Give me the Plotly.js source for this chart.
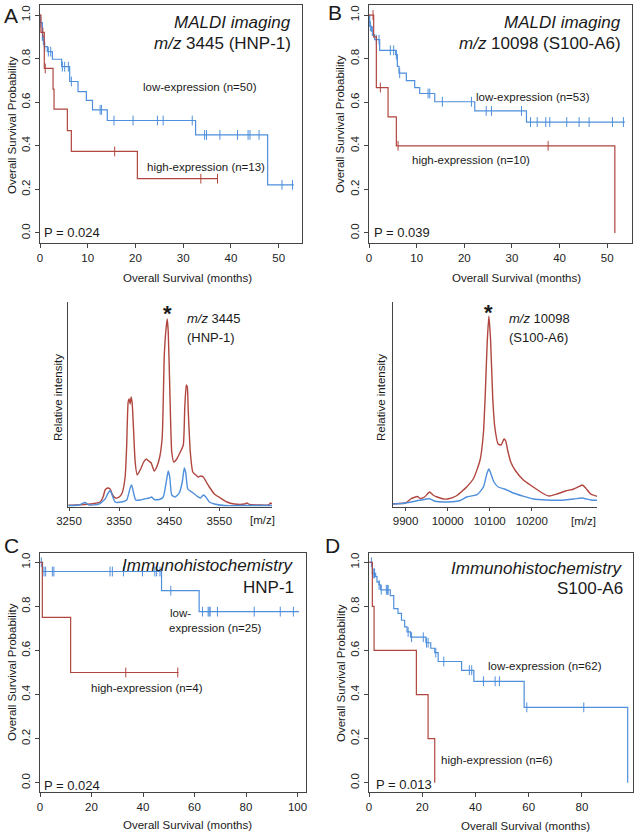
<!DOCTYPE html>
<html><head><meta charset="utf-8">
<script src="https://cdn.plot.ly/plotly-3.0.1.min.js"></script>
<style>html,body{margin:0;padding:0;background:#fff}#c{width:640px;height:835px}</style>
</head><body><div id="c"></div>
<script>
// ---------- Kaplan-Meier data (time in months, survival probability) ----------
const aLowT  = [0, 0.05, 0.5, 0.9, 1.54, 2.6, 4.54, 6.22, 7.97, 9.71, 11.0, 14.1, 32.6, 47.7, 53.2];
const aLowS  = [1.0, 0.965, 0.885, 0.855, 0.832, 0.797, 0.763, 0.695, 0.649, 0.608, 0.565, 0.516, 0.45, 0.221, 0.221];
const aLowCens = [0.15, 0.7, 1.0, 1.75, 2.24, 4.68, 5.17, 5.94, 6.57, 12.6, 12.9, 15.5, 19.5, 24.6, 25.8, 31.9, 34.5, 34.9, 37.7, 41.4, 43.6, 44.0, 45.9, 50.7, 52.9];
const aHighT = [0, 0.2, 0.9, 2.73, 2.94, 5.73, 6.57, 20.4, 37.3];
const aHighS = [1.0, 0.92, 0.755, 0.66, 0.568, 0.47, 0.374, 0.249, 0.249];
const aHighCens = [0.6, 1.1, 15.65, 33.7, 37.2];

const bLowT  = [0, 0.14, 0.49, 0.84, 1.19, 2.24, 5.6, 5.95, 6.3, 7.84, 9.59, 10.64, 13.8, 22.2, 33.05, 53.7];
const bLowS  = [1.0, 0.949, 0.926, 0.91, 0.887, 0.838, 0.818, 0.764, 0.733, 0.699, 0.667, 0.64, 0.602, 0.56, 0.509, 0.509];
const bLowCens = [0.28, 0.7, 1.54, 2.1, 4.48, 5.18, 5.74, 6.44, 12.4, 12.75, 15.4, 21.5, 24.6, 25.7, 32.0, 33.9, 35.3, 37.1, 37.95, 41.5, 44.1, 46.2, 51.1, 53.4];
const bHighT = [0, 0.98, 1.54, 4.0, 5.74, 51.6];
const bHighS = [1.0, 0.9, 0.667, 0.533, 0.4, 0.0];
const bHighCens = [0.84, 2.38, 6.1, 37.6];

const cLowT  = [0, 1.0, 47.2, 61.8, 100.6];
const cLowS  = [1.0, 0.958, 0.871, 0.776, 0.776];
const cLowCens = [0.5, 1.55, 2.2, 4.8, 5.4, 27.2, 28.1, 32.4, 39.8, 44.6, 45.3, 46.6, 50.8, 63.1, 65.3, 65.7, 66.1, 68.9, 83.2, 93.3, 98.4];
const cHighT = [0, 0.9, 11.9, 53.8];
const cHighS = [1.0, 0.75, 0.5, 0.5];
const cHighCens = [33.3, 53.5];

const dLowT  = [0, 1.26, 2.5, 3.0, 3.77, 4.4, 8.0, 9.3, 10.9, 12.2, 13.4, 14.3, 15.6, 21.4, 23.2, 24.7, 26.0, 34.8, 39.4, 58.3, 97.2];
const dLowS  = [1.0, 0.95, 0.935, 0.91, 0.897, 0.875, 0.849, 0.79, 0.768, 0.737, 0.707, 0.684, 0.66, 0.635, 0.61, 0.59, 0.55, 0.51, 0.46, 0.342, 0.0];
const dLowCens = [0.9, 1.5, 1.9, 2.1, 3.8, 4.6, 6.5, 6.9, 7.2, 14.7, 16.0, 20.4, 21.6, 22.2, 25.1, 28.1, 37.7, 38.6, 43.0, 47.4, 49.0, 59.3, 80.7];
const dHighT = [0, 1.26, 1.9, 17.8, 22.2, 24.7];
const dHighS = [1.0, 0.8, 0.6, 0.4, 0.2, 0.0];
const dHighCens = [];

// ---------- Mass spectra (m/z, relative intensity) ----------
const specL_redMz = [3249,3265,3280,3300,3312,3318,3322,3327,3332,3337,3343,3350,3356,3362,3365,3368,3370,3372,3374,3376,3379,3382,3386,3392,3399,3404,3409,3414,3420,3425,3431,3436,3440,3443,3446,3448,3451,3455,3459,3465,3472,3478,3481,3484,3486,3488,3492,3497,3503,3508,3513,3518,3524,3530,3540,3552,3565,3580,3600,3605,3610,3630,3648,3652,3655];
const specL_red   = [1.7,2,2.5,3.5,5,10,17,19,18,12,9,10,14,30,60,105,108,103,110,104,75,45,32,37,45,48,46,44,36,40,50,70,150,175,188,175,120,55,45,48,55,62,100,122,120,95,55,35,32,30,31,30,25,20,13,9,5,3,3,4,2.5,2,2,4,3];
const specL_blueMz = [3249,3270,3282,3290,3310,3322,3328,3332,3336,3342,3355,3365,3372,3375,3378,3383,3392,3400,3410,3415,3420,3430,3438,3444,3448,3451,3455,3462,3470,3476,3480,3483,3487,3495,3505,3512,3518,3523,3530,3540,3560,3600,3655];
const specL_blue   = [1.5,2,4.5,2,3,8,14,16.5,12,5,5,7,19,22,16,7,7,8,9,10,7.5,7.5,10,25,36,30,12,10,14,25,39,34,18,15,11,9,12,10,5,3,1.5,1.5,1.5];
const specL_ticks = [3250, 3350, 3450, 3550];
const specL_tickText = ['3250', '3350', '3450', '3550'];

const specR_redMz = [9870,9885,9900,9912,9920,9928,9935,9945,9957,9965,9975,9990,10000,10020,10045,10062,10077,10085,10090,10094,10098,10102,10107,10112,10120,10127,10134,10138,10143,10150,10160,10180,10200,10225,10240,10260,10280,10300,10315,10320,10328,10340,10355];
const specR_red   = [3.3,3.5,4,8,9.5,10.5,8.5,10,15,12,10,8,8,11,20,29,47,74,120,165,191,167,110,80,63,62,68,66,56,45,37,27,21,14,11,13,16,18,21,22,19,13,10.7];
const specR_blueMz = [9870,9900,9933,9957,9970,10000,10030,10045,10070,10085,10093,10098,10103,10110,10120,10135,10156,10204,10267,10300,10319,10340,10355];
const specR_blue   = [3,4,6.7,8.3,5.7,5,6.5,10,12.3,20,33,38,33,25,20,18,14,8,6.7,8,9,7,6.7];
const specR_ticks = [9900, 10000, 10100, 10200];
const specR_tickText = ['9900', '10000', '10100', '10200'];

// ---------- styling ----------
const W = 640, H = 835;
const BLUE = '#4f8fdc', RED = '#b0463f', AX = '#444';
const FONT = 'Liberation Sans, Arial, Helvetica, sans-serif';
const dx = (a, b) => [a / W, b / W];
const dy = (top, bot) => [1 - bot / H, 1 - top / H];

function stepAt(T, S, t) { let v = S[0]; for (let i = 0; i < T.length; i++) if (T[i] <= t) v = S[i]; return v; }

const traces = [];
function km(T, S, C, color, ax) {
  traces.push({x: T, y: S, type: 'scatter', mode: 'lines', line: {shape: 'hv', color: color, width: 1.2},
    xaxis: 'x' + ax, yaxis: 'y' + ax, hoverinfo: 'skip'});
  if (C.length) traces.push({x: C, y: C.map(t => stepAt(T, S, t)), type: 'scatter', mode: 'markers',
    marker: {symbol: 'line-ns-open', size: 7, line: {width: 1, color: color}, color: color},
    xaxis: 'x' + ax, yaxis: 'y' + ax, hoverinfo: 'skip'});
}
km(aLowT, aLowS, aLowCens, BLUE, '');
km(aHighT, aHighS, aHighCens, RED, '');
km(bLowT, bLowS, bLowCens, BLUE, '2');
km(bHighT, bHighS, bHighCens, RED, '2');
km(cLowT, cLowS, cLowCens, BLUE, '5');
km(cHighT, cHighS, cHighCens, RED, '5');
km(dLowT, dLowS, dLowCens, BLUE, '6');
km(dHighT, dHighS, dHighCens, RED, '6');

function spec(mz, v, color, ax) {
  traces.push({x: mz, y: v, type: 'scatter', mode: 'lines', line: {color: color, width: 1.4, shape: 'spline', smoothing: 0.5},
    xaxis: 'x' + ax, yaxis: 'y' + ax, hoverinfo: 'skip'});
}
spec(specL_redMz, specL_red, RED, '3');
spec(specL_blueMz, specL_blue, BLUE, '3');
spec(specR_redMz, specR_red, RED, '4');
spec(specR_blueMz, specR_blue, BLUE, '4');

const tickF = {family: FONT, size: 11.5, color: '#222'};
function kmX(dom, anchor, maxv, vals) {
  return {domain: dom, anchor: anchor, range: [0, maxv], tickvals: vals, ticktext: vals.map(String), showline: true, mirror: true,
    linecolor: AX, linewidth: 1, ticks: 'outside', ticklen: 4, tickcolor: AX, showgrid: false, zeroline: false,
    tickfont: tickF, fixedrange: true};
}
function kmY(dom, anchor, rng) {
  return {domain: dom, anchor: anchor, range: rng, tickvals: [0, 0.2, 0.4, 0.6, 0.8, 1.0], ticktext: ['0.0','0.2','0.4','0.6','0.8','1.0'],
    tickangle: -90, showline: true, mirror: true, linecolor: AX, linewidth: 1, ticks: 'outside', ticklen: 4,
    tickcolor: AX, showgrid: false, zeroline: false, tickfont: tickF, fixedrange: true};
}
function spX(dom, anchor, rng, vals, txt) {
  return {domain: dom, anchor: anchor, range: rng, tickvals: vals, ticktext: txt, showline: true, linecolor: AX, linewidth: 1.2,
    ticks: 'outside', ticklen: 3, tickcolor: AX, showgrid: false, zeroline: false, tickfont: tickF, fixedrange: true};
}
function spY(dom, anchor, rng) {
  return {domain: dom, anchor: anchor, range: rng, showline: true, linecolor: AX, linewidth: 1.2, ticks: '',
    showticklabels: false, showgrid: false, zeroline: false, fixedrange: true};
}

const anns = [];
function A(px, py, text, size, xa, opt) {
  anns.push(Object.assign({xref: 'paper', yref: 'paper', x: px / W, y: 1 - py / H, text: text, showarrow: false,
    xanchor: xa || 'left', yanchor: 'middle', font: {family: FONT, size: size, color: '#1a1a1a'}}, opt || {}));
}
// panel letters
A(2, 15, 'A', 21); A(326, 13, 'B', 21); A(2, 545, 'C', 21); A(323, 545, 'D', 21);
// A
A(293, 23, '<i>MALDI imaging</i>', 17, 'right');
A(293, 43, '<i>m/z</i> 3445 (HNP-1)', 17, 'right');
A(141, 87, 'low-expression (n=50)', 11.5);
A(145, 167, 'high-expression (n=13)', 11.5);
A(42, 232, 'P = 0.024', 13);
A(12, 125, 'Overall Survival Probability', 11.5, 'center', {textangle: -90});
A(187, 278, 'Overall Survival (months)', 11.5, 'center');
// B
A(623, 23, '<i>MALDI imaging</i>', 17, 'right');
A(623, 43, '<i>m/z</i> 10098 (S100-A6)', 17, 'right');
A(474, 97, 'low-expression (n=53)', 11.5);
A(410, 160, 'high-expression (n=10)', 11.5);
A(372, 232, 'P = 0.039', 13);
A(340, 124, 'Overall Survival Probability', 11.5, 'center', {textangle: -90});
A(516, 278, 'Overall Survival (months)', 11.5, 'center');
// spectra
A(58, 398, 'Relative intensity', 11.5, 'center', {textangle: -90});
A(381, 398, 'Relative intensity', 11.5, 'center', {textangle: -90});
A(167, 314, '<b>*</b>', 22, 'center');
A(488, 312, '<b>*</b>', 22, 'center');
A(185, 318, '<i>m/z</i> 3445', 13);
A(185, 337, '(HNP-1)', 13);
A(507, 318, '<i>m/z</i> 10098', 13);
A(507, 337, '(S100-A6)', 13);
A(262, 520, '[m/z]', 11.5, 'center');
A(583, 521, '[m/z]', 11.5, 'center');
// C
A(296, 565, '<i>Immunohistochemistry</i>', 17, 'right');
A(296, 587, 'HNP-1', 17, 'right');
A(168, 613, 'low-', 11.5);
A(167, 628, 'expression (n=25)', 11.5);
A(89, 688, 'high-expression (n=4)', 11.5);
A(42, 785, 'P = 0.024', 13);
A(12, 672, 'Overall Survival Probability', 11.5, 'center', {textangle: -90});
A(187, 825, 'Overall Survival (months)', 11.5, 'center');
// D
A(625, 568, '<i>Immunohistochemistry</i>', 17, 'right');
A(625, 588, 'S100-A6', 17, 'right');
A(486, 666, 'low-expression (n=62)', 11.5);
A(439, 760, 'high-expression (n=6)', 11.5);
A(374, 784, 'P = 0.013', 13);
A(341, 673, 'Overall Survival Probability', 11.5, 'center', {textangle: -90});
A(525, 826, 'Overall Survival (months)', 11.5, 'center');

const layout = {
  width: W, height: H, margin: {l: 0, r: 0, t: 0, b: 0}, paper_bgcolor: '#fff', plot_bgcolor: 'rgba(0,0,0,0)',
  showlegend: false, font: {family: FONT},
  xaxis: kmX(dx(40, 302), 'y', 54.9, [0, 10, 20, 30, 40, 50]),
  yaxis: kmY(dy(5, 243), 'x', [-0.046, 1.046]),
  xaxis2: kmX(dx(369, 632), 'y2', 55.2, [0, 10, 20, 30, 40, 50]),
  yaxis2: kmY(dy(5, 243), 'x2', [-0.046, 1.046]),
  xaxis3: spX(dx(68, 272), 'y3', [3248, 3655], specL_ticks, specL_tickText),
  yaxis3: spY(dy(302, 507), 'x3', [0, 205]),
  xaxis4: spX(dx(393, 597), 'y4', [9870, 10355], specR_ticks, specR_tickText),
  yaxis4: spY(dy(302, 507), 'x4', [0, 205]),
  xaxis5: kmX(dx(40, 306), 'y5', 103.3, [0, 20, 40, 60, 80, 100]),
  yaxis5: kmY(dy(553, 792), 'x5', [-0.042, 1.042]),
  xaxis6: kmX(dx(369, 633), 'y6', 99.2, [0, 20, 40, 60, 80]),
  yaxis6: kmY(dy(553, 792), 'x6', [-0.042, 1.042]),
  annotations: anns
};
Plotly.newPlot('c', traces, layout, {staticPlot: true, displayModeBar: false});
</script></body></html>
